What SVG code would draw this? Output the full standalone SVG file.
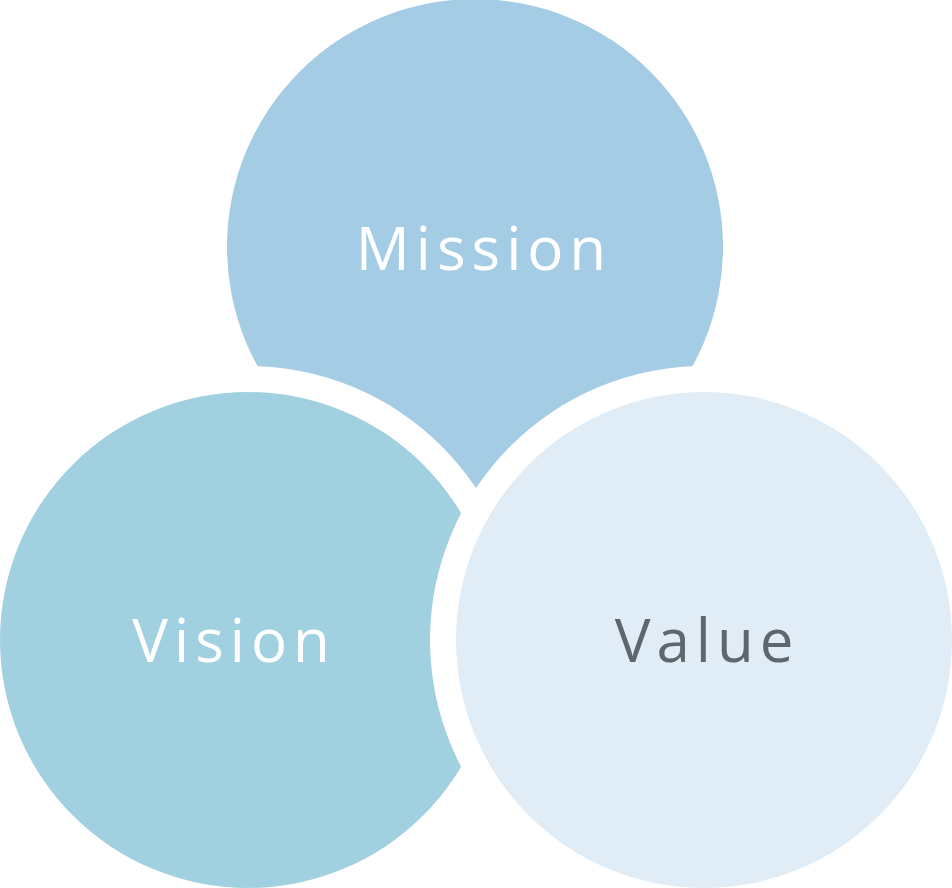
<svg xmlns="http://www.w3.org/2000/svg" width="952" height="888" viewBox="0 0 952 888">
<style>
text{font-family:"Open Sans","Liberation Sans",sans-serif;font-size:60px;font-weight:500;letter-spacing:6px;text-anchor:middle}
.w{fill:#fff}
</style>
<rect width="952" height="888" fill="#fff"/>
<g id="mission"><circle cx="475" cy="247" r="248" fill="#A5CCE5"/><text x="484" y="270" class="w">Mission</text></g>
<g id="vision"><circle cx="248" cy="640" r="274" fill="#fff"/><circle cx="248" cy="640" r="248" fill="#A1D0E1"/><text x="234" y="662" class="w">Vision</text></g>
<g id="value"><circle cx="704" cy="640" r="274" fill="#fff"/><circle cx="704" cy="640" r="248" fill="#E0EDF7"/><text x="707" y="662" fill="#5F6670">Value</text></g>
<g id="connectors"/>
</svg>
